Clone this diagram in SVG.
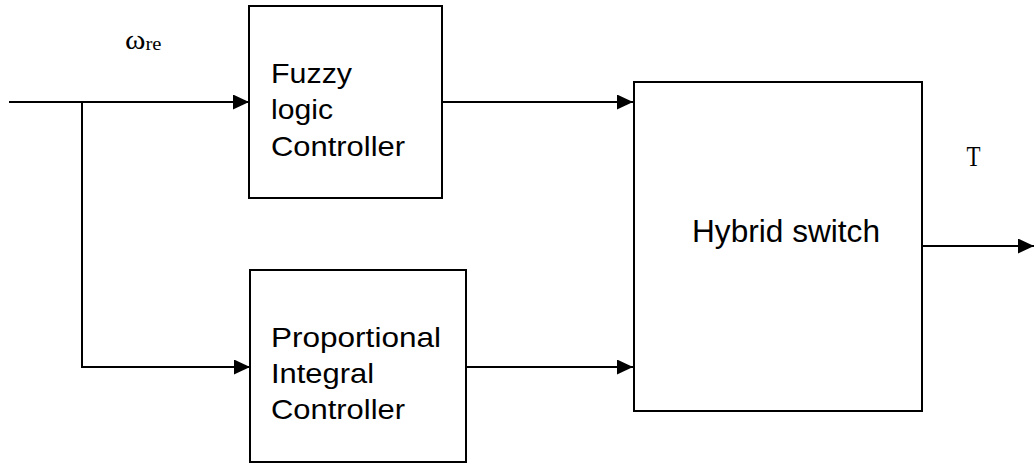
<svg xmlns="http://www.w3.org/2000/svg" width="1034" height="465" viewBox="0 0 1034 465">
  <style>
    .box { fill: #ffffff; stroke: #000000; stroke-width: 2; }
    .wire { fill: none; stroke: #000000; stroke-width: 2; }
    .sans { font-family: "Liberation Sans", Arial, sans-serif; fill: #000000; }
    .serif { font-family: "Liberation Serif", "Times New Roman", serif; fill: #000000; }
  </style>
  <defs>
    <marker id="arrow" markerUnits="userSpaceOnUse" markerWidth="16" markerHeight="15" refX="16" refY="7.5" orient="auto">
      <path d="M0,0 L16,7.5 L0,15 z" fill="#000000"/>
    </marker>
  </defs>
  <rect width="1034" height="465" fill="#ffffff"/>

  <g id="connectors">
    <line class="wire" x1="9" y1="102" x2="249" y2="102" marker-end="url(#arrow)"/>
    <polyline class="wire" points="82,102 82,367 250,367" marker-end="url(#arrow)"/>
    <line class="wire" x1="442" y1="102" x2="633" y2="102" marker-end="url(#arrow)"/>
    <line class="wire" x1="466" y1="367" x2="633" y2="367" marker-end="url(#arrow)"/>
    <line class="wire" x1="922" y1="246" x2="1034" y2="246" marker-end="url(#arrow)"/>
  </g>

  <g id="input-label">
    <text class="serif" x="125" y="48.5" font-size="27" textLength="20.5" lengthAdjust="spacingAndGlyphs">ω</text>
    <text class="serif" x="145.5" y="49.5" font-size="19" textLength="16" lengthAdjust="spacingAndGlyphs">re</text>
  </g>

  <g id="fuzzy">
    <rect class="box" x="249" y="6" width="193" height="192"/>
    <text class="sans" x="271" y="82.7" font-size="27.5" textLength="81" lengthAdjust="spacingAndGlyphs">Fuzzy</text>
    <text class="sans" x="271" y="119" font-size="27.5" textLength="62" lengthAdjust="spacingAndGlyphs">logic</text>
    <text class="sans" x="271" y="155.5" font-size="27.5" textLength="134" lengthAdjust="spacingAndGlyphs">Controller</text>
  </g>

  <g id="pi">
    <rect class="box" x="250" y="270" width="216" height="192"/>
    <text class="sans" x="271" y="346.7" font-size="27.5" textLength="170" lengthAdjust="spacingAndGlyphs">Proportional</text>
    <text class="sans" x="271" y="382.7" font-size="27.5" textLength="103" lengthAdjust="spacingAndGlyphs">Integral</text>
    <text class="sans" x="271" y="419" font-size="27.5" textLength="134" lengthAdjust="spacingAndGlyphs">Controller</text>
  </g>

  <g id="hybrid">
    <rect class="box" x="634" y="82" width="288" height="329"/>
    <text class="sans" x="692" y="241.7" font-size="31" textLength="188" lengthAdjust="spacingAndGlyphs">Hybrid switch</text>
  </g>

  <g id="output-label">
    <text class="serif" x="966.5" y="166" font-size="30" textLength="14" lengthAdjust="spacingAndGlyphs">T</text>
  </g>
</svg>
